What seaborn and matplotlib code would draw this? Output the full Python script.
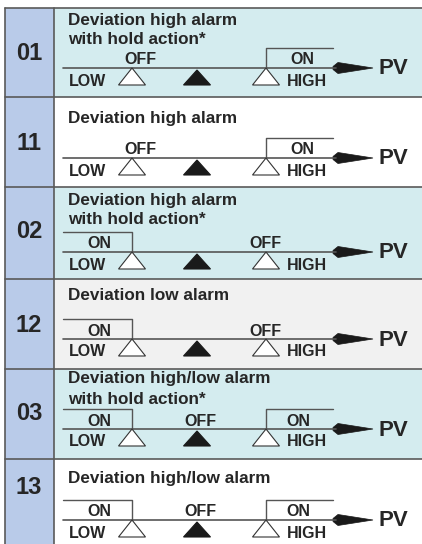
import numpy as np
import pandas as pd
import seaborn as sns
import matplotlib.pyplot as plt
from matplotlib.patches import Rectangle, Polygon

sns.set_theme(style="white")
plt.rcParams['font.family'] = ['Liberation Sans', 'DejaVu Sans']

# 表格数据
codes = ["01", "11", "02", "12", "03", "13"]
titles = [["Deviation high alarm", "with hold action*"],
          ["Deviation high alarm"],
          ["Deviation high alarm", "with hold action*"],
          ["Deviation low alarm"],
          ["Deviation high/low alarm", "with hold action*"],
          ["Deviation high/low alarm"]]
alarm_type = ["high", "high", "low", "low", "both", "both"]
bg_colors = ["#d4ecef", "#ffffff", "#d4ecef", "#f1f1f1", "#d4ecef", "#ffffff"]

# 像素布局
row_top = [8, 97, 187, 279, 369, 459, 560]
line_y = [68, 158, 252, 339, 429, 520]
title_y = [[21, 40], [118], [200, 220], [295], [378, 400], [479]]
code_y = [53, 144, 231, 325, 413, 488]

txt = "#262626"
lc = "#555555"

fig = plt.figure(figsize=(4.22, 5.44), dpi=100)
ax = fig.add_axes([0, 0, 1, 1])
ax.set_xlim(0, 422)
ax.set_ylim(544, 0)
ax.axis("off")

x_low, x_mid, x_high = 132, 197, 266
x0, x_end = 63, 336

for i in range(len(codes)):
    t, b = row_top[i], row_top[i + 1]
    ax.add_patch(Rectangle((54, t), 380, b - t, facecolor=bg_colors[i], edgecolor="none"))
    ax.add_patch(Rectangle((5, t), 49, b - t, facecolor="#b9cbe9", edgecolor="none"))
    ax.plot([5, 422], [t, t], color="#5a5a5a", lw=1.2)
    ax.text(29, code_y[i], codes[i], ha="center", va="center", fontsize=17,
            fontweight="bold", color=txt)
    for s, yy in zip(titles[i], title_y[i]):
        ax.text(68, yy, s, ha="left", va="center", fontsize=12.3, fontweight="bold", color=txt)

    L = line_y[i]
    ax.plot([x0, x_end], [L, L], color=lc, lw=1.2)
    ax.add_patch(Polygon([(333, L - 1.5), (338, L - 5.5), (373, L), (338, L + 5.5), (333, L + 1.5)],
                         closed=True, facecolor="#1a1a1a", edgecolor="#1a1a1a", lw=0.5))
    ax.text(378, L + 1, "PV", ha="left", va="center", fontsize=16, fontweight="bold", color=txt)

    # 三角标记
    for xc, fill, dy in [(x_low, "white", 0), (x_mid, "#1a1a1a", 2), (x_high, "white", 0)]:
        ax.add_patch(Polygon([(xc, L + dy), (xc - 13.5, L + 17), (xc + 13.5, L + 17)], closed=True,
                             facecolor=fill, edgecolor="#333333" if fill == "white" else "#1a1a1a",
                             lw=0.8, zorder=3))
    ax.text(69, L + 13, "LOW", ha="left", va="center", fontsize=11.5, fontweight="bold", color=txt)
    ax.text(287, L + 13, "HIGH", ha="left", va="center", fontsize=11.5, fontweight="bold", color=txt)

    kind = alarm_type[i]
    if kind in ("high", "both"):
        ax.plot([x_high, x_high, 333], [L, L - 20, L - 20], color=lc, lw=1.0)
    if kind in ("low", "both"):
        ax.plot([x0, x_low, x_low], [L - 20, L - 20, L], color=lc, lw=1.0)

    if kind == "high":
        labels = [(140, "OFF"), (302, "ON")]
    elif kind == "low":
        labels = [(99, "ON"), (265, "OFF")]
    else:
        labels = [(99, "ON"), (200, "OFF"), (298, "ON")]
    for xx, s in labels:
        ax.text(xx, L - 8, s, ha="center", va="center", fontsize=11.5, fontweight="bold", color=txt)

ax.plot([5, 5], [8, 544], color="#5a5a5a", lw=1.2)
ax.plot([54, 54], [8, 544], color="#5a5a5a", lw=1.2)

fig.savefig("out.png", dpi=100)
